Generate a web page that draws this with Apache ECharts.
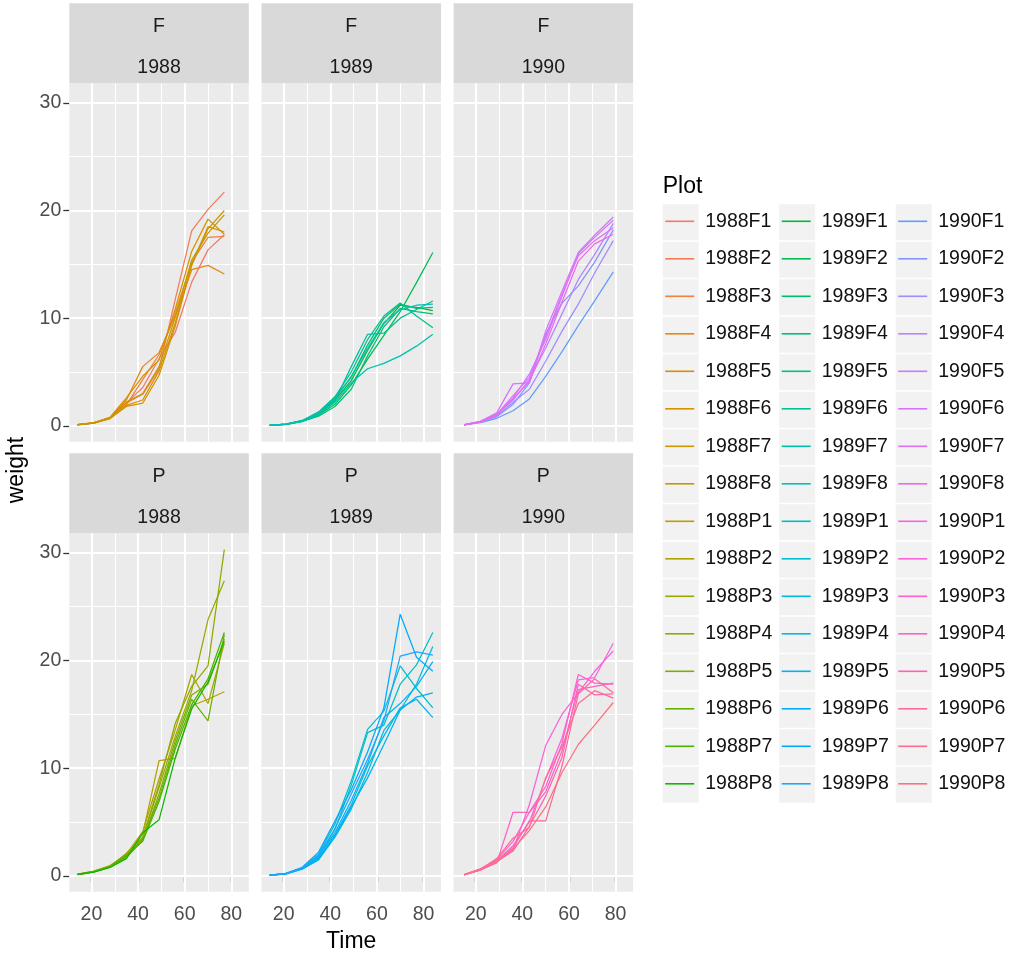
<!DOCTYPE html>
<html><head><meta charset="utf-8">
<script src="https://cdn.jsdelivr.net/npm/echarts@6/dist/echarts.min.js"></script>
<style>html,body{margin:0;padding:0;background:#fff}#c{width:1011px;height:955px}</style>
</head><body><div id="c"></div><script>
// ---------------- data ----------------
const years = ['1988', '1989', '1990'];
const varieties = ['F', 'P'];
const xTickLabels = [20, 40, 60, 80];
const yTickLabels = [0, 10, 20, 30];

const times1988 = [14, 21, 28, 35, 42, 49, 56, 63, 70, 77];
const times1989 = [14, 21, 28, 35, 42, 49, 56, 63, 70, 77, 84];
const times1990 = [15, 22, 29, 36, 43, 50, 57, 64, 71, 79];

const weights1988F = [
  [0.11, 0.26, 0.67, 2.11, 3.56, 6.23, 8.71, 13.35, 16.34, 17.75],
  [0.10, 0.27, 0.78, 2.12, 2.93, 5.29, 11.8, 18.1, 20.1, 21.7],
  [0.11, 0.28, 0.73, 1.95, 4.30, 6.60, 10.5, 15.2, 17.5, 17.6],
  [0.12, 0.30, 0.75, 2.40, 5.50, 6.80, 10.2, 14.5, 14.9, 14.1],
  [0.10, 0.25, 0.70, 1.90, 2.40, 5.10, 9.6, 15.0, 18.5, 18.0],
  [0.11, 0.27, 0.80, 2.60, 4.60, 6.10, 10.9, 16.2, 19.2, 17.8],
  [0.10, 0.26, 0.68, 1.80, 2.10, 4.70, 9.3, 14.9, 18.3, 20.0],
  [0.11, 0.28, 0.72, 2.20, 3.00, 5.50, 10.1, 15.4, 17.9, 19.6]
];
const weights1988P = [
  [0.14, 0.40, 0.90, 1.9, 3.9, 10.7, 10.9, 15.8, 16.4, 17.1],
  [0.15, 0.45, 0.95, 2.0, 4.1, 9.0, 13.6, 18.7, 16.0, 21.6],
  [0.13, 0.38, 0.90, 1.8, 3.5, 8.2, 13.0, 17.2, 23.8, 27.4],
  [0.14, 0.41, 0.88, 2.1, 3.6, 8.5, 14.2, 17.6, 19.5, 30.3],
  [0.12, 0.36, 0.80, 1.7, 3.3, 7.6, 12.6, 16.8, 17.8, 22.0],
  [0.13, 0.39, 0.82, 1.8, 3.4, 7.2, 12.2, 16.4, 14.4, 22.4],
  [0.14, 0.37, 0.84, 1.9, 3.2, 6.9, 11.8, 15.9, 18.3, 22.6],
  [0.12, 0.35, 0.78, 1.6, 4.0, 5.2, 11.0, 15.5, 18.0, 21.8]
];
const weights1989F = [
  [0.05, 0.15, 0.45, 1.1, 2.4, 4.2, 7.0, 9.5, 11.2, 11.0, 10.7],
  [0.04, 0.14, 0.40, 1.0, 2.0, 3.8, 6.2, 8.4, 10.6, 13.3, 16.1],
  [0.05, 0.16, 0.50, 1.2, 2.6, 4.5, 7.5, 10.0, 11.3, 10.9, 11.0],
  [0.04, 0.13, 0.42, 0.9, 1.8, 3.4, 6.5, 9.2, 10.9, 10.6, 10.4],
  [0.05, 0.15, 0.48, 1.3, 2.7, 5.0, 8.0, 10.2, 11.4, 10.2, 9.1],
  [0.04, 0.14, 0.44, 1.0, 2.3, 5.5, 8.5, 8.6, 10.0, 10.8, 11.6],
  [0.05, 0.16, 0.46, 1.1, 2.2, 4.0, 5.3, 5.8, 6.5, 7.4, 8.5],
  [0.05, 0.15, 0.47, 1.2, 2.5, 4.6, 7.2, 9.6, 10.8, 11.2, 11.3]
];
const weights1989P = [
  [0.05, 0.20, 0.70, 1.7, 4.3, 8.4, 13.3, 14.0, 17.8, 19.6, 22.6],
  [0.06, 0.22, 0.75, 2.0, 4.8, 8.8, 13.6, 15.3, 19.5, 17.4, 15.6],
  [0.05, 0.18, 0.62, 1.5, 3.6, 6.2, 9.6, 13.5, 15.4, 17.8, 21.3],
  [0.06, 0.21, 0.68, 1.6, 3.8, 6.6, 10.2, 13.0, 15.6, 16.4, 14.7],
  [0.05, 0.19, 0.65, 1.8, 4.0, 7.0, 10.4, 14.7, 16.0, 17.6, 19.9],
  [0.05, 0.20, 0.66, 1.5, 3.7, 6.4, 9.1, 12.2, 15.4, 16.6, 17.0],
  [0.06, 0.23, 0.80, 2.2, 5.1, 8.0, 11.5, 15.6, 24.3, 20.3, 19.0],
  [0.05, 0.21, 0.72, 1.9, 4.4, 7.6, 10.8, 14.4, 20.4, 20.8, 20.5]
];
const weights1990F = [
  [0.08, 0.30, 0.70, 1.4, 2.5, 4.6, 6.9, 9.3, 11.6, 14.3],
  [0.09, 0.35, 0.85, 2.0, 4.0, 8.5, 11.4, 13.0, 15.2, 18.2],
  [0.10, 0.36, 0.90, 2.2, 3.4, 6.0, 8.8, 11.3, 14.2, 17.2],
  [0.09, 0.38, 1.10, 2.4, 4.3, 7.2, 10.4, 13.6, 15.9, 18.8],
  [0.10, 0.40, 0.95, 2.6, 4.8, 8.0, 12.0, 16.0, 17.5, 19.1],
  [0.11, 0.42, 1.20, 3.9, 4.0, 8.8, 12.5, 16.1, 17.7, 19.4],
  [0.10, 0.41, 1.05, 2.8, 4.5, 8.3, 12.2, 15.8, 17.2, 18.4],
  [0.09, 0.37, 1.00, 2.5, 4.1, 7.6, 11.5, 15.3, 16.9, 17.8]
];
const weights1990P = [
  [0.10, 0.60, 1.4, 2.8, 5.0, 9.0, 12.8, 18.2, 18.4, 21.6],
  [0.09, 0.55, 1.3, 2.4, 6.6, 12.1, 15.0, 17.0, 19.0, 20.9],
  [0.11, 0.65, 1.5, 3.2, 5.9, 8.3, 12.3, 18.7, 17.9, 17.8],
  [0.10, 0.58, 1.2, 5.9, 5.9, 7.8, 11.6, 17.3, 17.6, 17.9],
  [0.09, 0.52, 1.3, 2.3, 4.6, 7.4, 11.0, 17.8, 16.8, 16.9],
  [0.10, 0.60, 1.4, 2.6, 5.1, 5.1, 10.2, 16.9, 18.3, 17.0],
  [0.11, 0.62, 1.6, 3.5, 4.5, 9.1, 12.0, 16.0, 17.2, 16.5],
  [0.10, 0.56, 1.3, 2.5, 4.2, 6.4, 9.6, 12.2, 14.0, 16.1]
];

const timesByYear = {'1988': times1988, '1989': times1989, '1990': times1990};
const weightsByPanel = {
  '1988F': weights1988F, '1988P': weights1988P,
  '1989F': weights1989F, '1989P': weights1989P,
  '1990F': weights1990F, '1990P': weights1990P
};

// ---------------- helpers ----------------
function hcl(h, c, l) {
  const hr = h * Math.PI / 180;
  const U = c * Math.cos(hr), V = c * Math.sin(hr);
  const Xn = 95.047, Yn = 100, Zn = 108.883;
  const den = Xn + 15 * Yn + 3 * Zn;
  const un = 4 * Xn / den, vn = 9 * Yn / den;
  const Y = Yn * (l > 7.999592 ? Math.pow((l + 16) / 116, 3) : l / 903.3);
  const u = U / (13 * l) + un, v = V / (13 * l) + vn;
  const X = 9 * Y * u / (4 * v);
  const Z = Y * (12 - 3 * u - 20 * v) / (4 * v);
  const x = X / 100, y = Y / 100, z = Z / 100;
  let rgb = [
    3.240479 * x - 1.537150 * y - 0.498535 * z,
    -0.969256 * x + 1.875992 * y + 0.041556 * z,
    0.055648 * x - 0.204043 * y + 1.057311 * z
  ];
  rgb = rgb.map(t => {
    t = t <= 0.0031308 ? 12.92 * t : 1.055 * Math.pow(t, 1 / 2.4) - 0.055;
    return Math.round(Math.max(0, Math.min(1, t)) * 255);
  });
  return 'rgb(' + rgb.join(',') + ')';
}

// ---------------- layout ----------------
const FONT = "'Liberation Sans', Arial, sans-serif";
const panelLeft = [69.3, 261.5, 453.6];
const panelW = 179.5;
const panelTop = [83.3, 533.3];
const panelH = 358.4;
const stripH = 80;

// build series names in legend order
const plotNames = [];
years.forEach(yr => varieties.forEach(v => { for (let k = 1; k <= 8; k++) plotNames.push(yr + v + k); }));
const nLev = plotNames.length;
const palette = plotNames.map((_, i) => hcl(15 + 360 * i / nLev, 100, 65));

// shared scales (fixed facets), ggplot 5% expansion
let allT = [], allW = [];
years.forEach(yr => varieties.forEach(v => {
  allT = allT.concat(timesByYear[yr]);
  weightsByPanel[yr + v].forEach(a => { allW = allW.concat(a); });
}));
const tMin = Math.min(...allT), tMax = Math.max(...allT);
const wMin = Math.min(...allW), wMax = Math.max(...allW);
const xMin = tMin - 0.05 * (tMax - tMin), xMax = tMax + 0.05 * (tMax - tMin);
const yMin = wMin - 0.05 * (wMax - wMin), yMax = wMax + 0.05 * (wMax - wMin);

const grids = [], xAxes = [], yAxes = [], series = [], graphics = [];
varieties.forEach((v, r) => {
  years.forEach((yr, c) => {
    const gi = r * 3 + c;
    grids.push({
      left: panelLeft[c], top: panelTop[r], width: panelW, height: panelH,
      show: true, backgroundColor: '#EBEBEB', borderWidth: 0, containLabel: false
    });
    const bottomRow = r === 1, leftCol = c === 0;
    xAxes.push({
      type: 'value', gridIndex: gi, min: xMin, max: xMax,
      axisLine: {show: false}, splitLine: {show: false},
      axisTick: {show: bottomRow, customValues: xTickLabels, length: 6, lineStyle: {color: '#333333', width: 1.3}},
      axisLabel: {show: bottomRow, customValues: xTickLabels, margin: 13, color: '#4D4D4D', fontSize: 19.5, fontFamily: FONT}
    });
    yAxes.push({
      type: 'value', gridIndex: gi, min: yMin, max: yMax,
      axisLine: {show: false}, splitLine: {show: false},
      axisTick: {show: leftCol, customValues: yTickLabels, length: 6, lineStyle: {color: '#333333', width: 1.3}},
      axisLabel: {show: leftCol, customValues: yTickLabels, margin: 8, color: '#4D4D4D', fontSize: 19.5, fontFamily: FONT}
    });
    // panel grid lines through the axis scales
    const ml = [];
    [20, 40, 60, 80].forEach(t => ml.push({xAxis: t, lineStyle: {width: 2.1}}));
    [30, 50, 70].forEach(t => ml.push({xAxis: t, lineStyle: {width: 1}}));
    [0, 10, 20, 30].forEach(t => ml.push({yAxis: t, lineStyle: {width: 2.1}}));
    [5, 15, 25].forEach(t => ml.push({yAxis: t, lineStyle: {width: 1}}));
    series.push({
      type: 'line', xAxisIndex: gi, yAxisIndex: gi, data: [], z: 1, silent: true,
      markLine: {symbol: ['none', 'none'], silent: true, animation: false, label: {show: false}, z: 1,
        lineStyle: {color: '#FFFFFF', type: 'solid', opacity: 1}, emphasis: {disabled: true}, data: ml}
    });
    // strip
    graphics.push({type: 'rect', z: 0, silent: true,
      shape: {x: panelLeft[c], y: panelTop[r] - stripH, width: panelW, height: stripH},
      style: {fill: '#D9D9D9'}});
    graphics.push({type: 'text', z: 1, silent: true, x: panelLeft[c] + panelW / 2, y: panelTop[r] - stripH + 23.5,
      style: {text: v, fill: '#1A1A1A', font: '19.5px ' + FONT, textAlign: 'center', textVerticalAlign: 'middle'}});
    graphics.push({type: 'text', z: 1, silent: true, x: panelLeft[c] + panelW / 2, y: panelTop[r] - stripH + 64,
      style: {text: yr, fill: '#1A1A1A', font: '19.5px ' + FONT, textAlign: 'center', textVerticalAlign: 'middle'}});
    // data lines
    const ts = timesByYear[yr];
    weightsByPanel[yr + v].forEach((w, k) => {
      const name = yr + v + (k + 1);
      const col = palette[plotNames.indexOf(name)];
      series.push({
        name: name, type: 'line', xAxisIndex: gi, yAxisIndex: gi, z: 3,
        data: ts.map((t, i) => [t, w[i]]),
        symbol: 'none', showSymbol: false, animation: false,
        lineStyle: {color: col, width: 1.25}, itemStyle: {color: col},
        emphasis: {disabled: true}
      });
    });
  });
});

// axis titles
graphics.push({type: 'text', silent: true, x: (panelLeft[0] + panelLeft[2] + panelW) / 2, y: 942,
  style: {text: 'Time', fill: '#000000', font: '23px ' + FONT, textAlign: 'center', textVerticalAlign: 'middle'}});
graphics.push({type: 'text', silent: true, x: 17, y: 470, rotation: Math.PI / 2,
  style: {text: 'weight', fill: '#000000', font: '23px ' + FONT, textAlign: 'center', textVerticalAlign: 'middle'}});

// legend title and key backgrounds
const legX = [662.7, 779.2, 895.7];
const legTop = 204.3, legPitch = 37.5, keySize = 36;
graphics.push({type: 'text', silent: true, x: legX[0], y: 186.5,
  style: {text: 'Plot', fill: '#000000', font: '23px ' + FONT, textAlign: 'left', textVerticalAlign: 'middle'}});
for (let c = 0; c < 3; c++) {
  for (let r = 0; r < 16; r++) {
    graphics.push({type: 'rect', z: 0, silent: true,
      shape: {x: legX[c], y: legTop + r * legPitch, width: keySize, height: keySize},
      style: {fill: '#F2F2F2'}});
  }
}

const legends = years.map((yr, c) => ({
  orient: 'vertical', left: legX[c] + 2.5, top: legTop + keySize / 2 - legPitch / 2 - 1,
  padding: 0, itemGap: 0, itemWidth: 29, itemHeight: 1.6, icon: 'rect',
  selectedMode: false, z: 5,
  data: plotNames.filter(n => n.startsWith(yr)),
  textStyle: {fontSize: 19.5, fontFamily: FONT, color: '#111111', lineHeight: legPitch, padding: [0, 0, 0, 6]}
}));

const chart = echarts.init(document.getElementById('c'), null, {renderer: 'canvas'});
chart.setOption({
  backgroundColor: '#FFFFFF',
  animation: false,
  grid: grids, xAxis: xAxes, yAxis: yAxes,
  legend: legends,
  graphic: {elements: graphics},
  series: series
});
</script></body></html>
